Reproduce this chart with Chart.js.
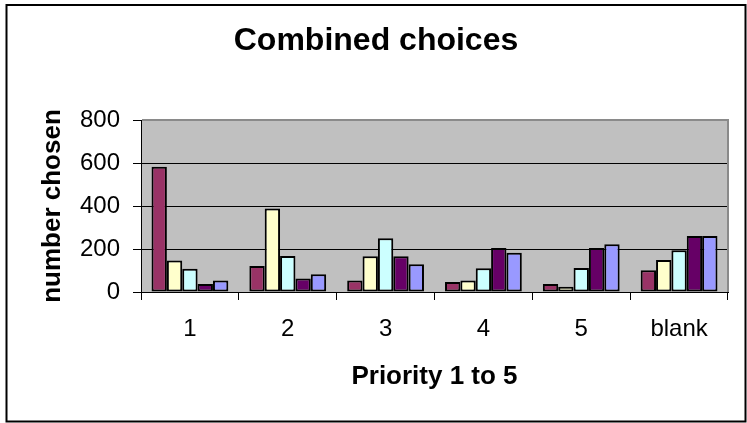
<!DOCTYPE html>
<html>
<head>
<meta charset="utf-8">
<script src="https://cdn.jsdelivr.net/npm/chart.js@4.4.1/dist/chart.umd.min.js"></script>
<style>
  html, body { margin: 0; padding: 0; background: #fff; }
  #wrap { width: 747px; height: 423px; position: relative; }
</style>
</head>
<body>
<div id="wrap"><canvas id="c" width="747" height="423"></canvas></div>
<script>
const categories = ["1", "2", "3", "4", "5", "blank"];
const series1 = [583, 121, 54, 47, 37, 101];
const series2 = [147, 388, 166, 54, 25, 149];
const series3 = [108, 167, 250, 110, 112, 194];
const series4 = [37, 63, 166, 205, 205, 260];
const series5 = [54, 82, 129, 183, 222, 260];
const yTicks = [0, 200, 400, 600, 800];

const colors = ["#993366", "#FFFFCC", "#CCFFFF", "#660066", "#9999FF"];
const seriesList = [series1, series2, series3, series4, series5];
const FONT = "'Liberation Sans', Arial, sans-serif";

const plotDecor = {
  id: 'plotDecor',
  beforeDraw(chart) {
    const {ctx, chartArea: a} = chart;
    ctx.save();
    ctx.fillStyle = '#C0C0C0';
    ctx.fillRect(a.left, a.top, a.right - a.left, a.bottom - a.top);
    ctx.restore();
  },
  afterDraw(chart) {
    const {ctx, chartArea: a} = chart;
    ctx.save();
    ctx.strokeStyle = '#8a8a8a';
    ctx.lineWidth = 2;
    ctx.beginPath();
    ctx.moveTo(a.left + 1, a.top);
    ctx.lineTo(a.right, a.top);
    ctx.lineTo(a.right, a.bottom);
    ctx.stroke();
    ctx.strokeStyle = '#000';
    ctx.lineWidth = 2;
    ctx.strokeRect(6.5, 5, 739, 416.5);
    ctx.restore();
  }
};

new Chart(document.getElementById('c'), {
  type: 'bar',
  data: {
    labels: categories,
    datasets: seriesList.map((s, i) => ({
      label: 'Series ' + (i + 1),
      data: s,
      backgroundColor: colors[i],
      borderColor: '#000',
      borderWidth: 2,
      borderSkipped: false,
      categoryPercentage: 0.785,
      barPercentage: 1.0
    }))
  },
  options: {
    responsive: false,
    animation: false,
    devicePixelRatio: 1,
    layout: { padding: { left: 8, right: 3, top: 0, bottom: 31 } },
    plugins: {
      legend: { display: false },
      tooltip: { enabled: false },
      title: {
        display: true,
        text: 'Combined choices',
        color: '#000',
        font: { family: FONT, size: 32, weight: 'bold', lineHeight: 1.2 },
        padding: { top: 22, bottom: 59.6 }
      }
    },
    scales: {
      x: {
        offset: true,
        grid: {
          offset: true,
          drawOnChartArea: false,
          drawTicks: true,
          tickLength: 8,
          color: '#000',
          lineWidth: 1
        },
        border: { display: true, color: '#000', width: 1 },
        ticks: {
          color: '#000',
          padding: 15,
          maxRotation: 0,
          font: { family: FONT, size: 24 }
        },
        title: {
          display: true,
          text: 'Priority 1 to 5',
          color: '#000',
          font: { family: FONT, size: 26, weight: 'bold', lineHeight: 1.2 },
          padding: { top: 0, bottom: 0 }
        },
        afterFit(scale) { scale.height = 100; }
      },
      y: {
        min: 0,
        max: 800,
        afterBuildTicks(scale) { scale.ticks = yTicks.map(v => ({ value: v })); },
        grid: {
          color: (ctx) => (ctx.tick && ctx.tick.value === 800) ? 'rgba(0,0,0,0)' : '#000',
          tickColor: '#000',
          tickLength: 8,
          lineWidth: 1
        },
        border: { display: true, color: '#000', width: 1 },
        ticks: {
          color: '#000',
          padding: 13,
          font: { family: FONT, size: 24 }
        },
        title: {
          display: true,
          text: 'number chosen',
          color: '#000',
          font: { family: FONT, size: 26, weight: 'bold', lineHeight: 1.2 },
          padding: { top: 29, bottom: 0 }
        },
        afterFit(scale) { scale.width = 133; }
      },
      yRight: {
        type: 'linear',
        position: 'right',
        display: true,
        grid: { display: false, drawTicks: false },
        border: { display: false },
        ticks: { display: false },
        afterFit(scale) { scale.width = 16; }
      }
    }
  },
  plugins: [plotDecor]
});
</script>
</body>
</html>
